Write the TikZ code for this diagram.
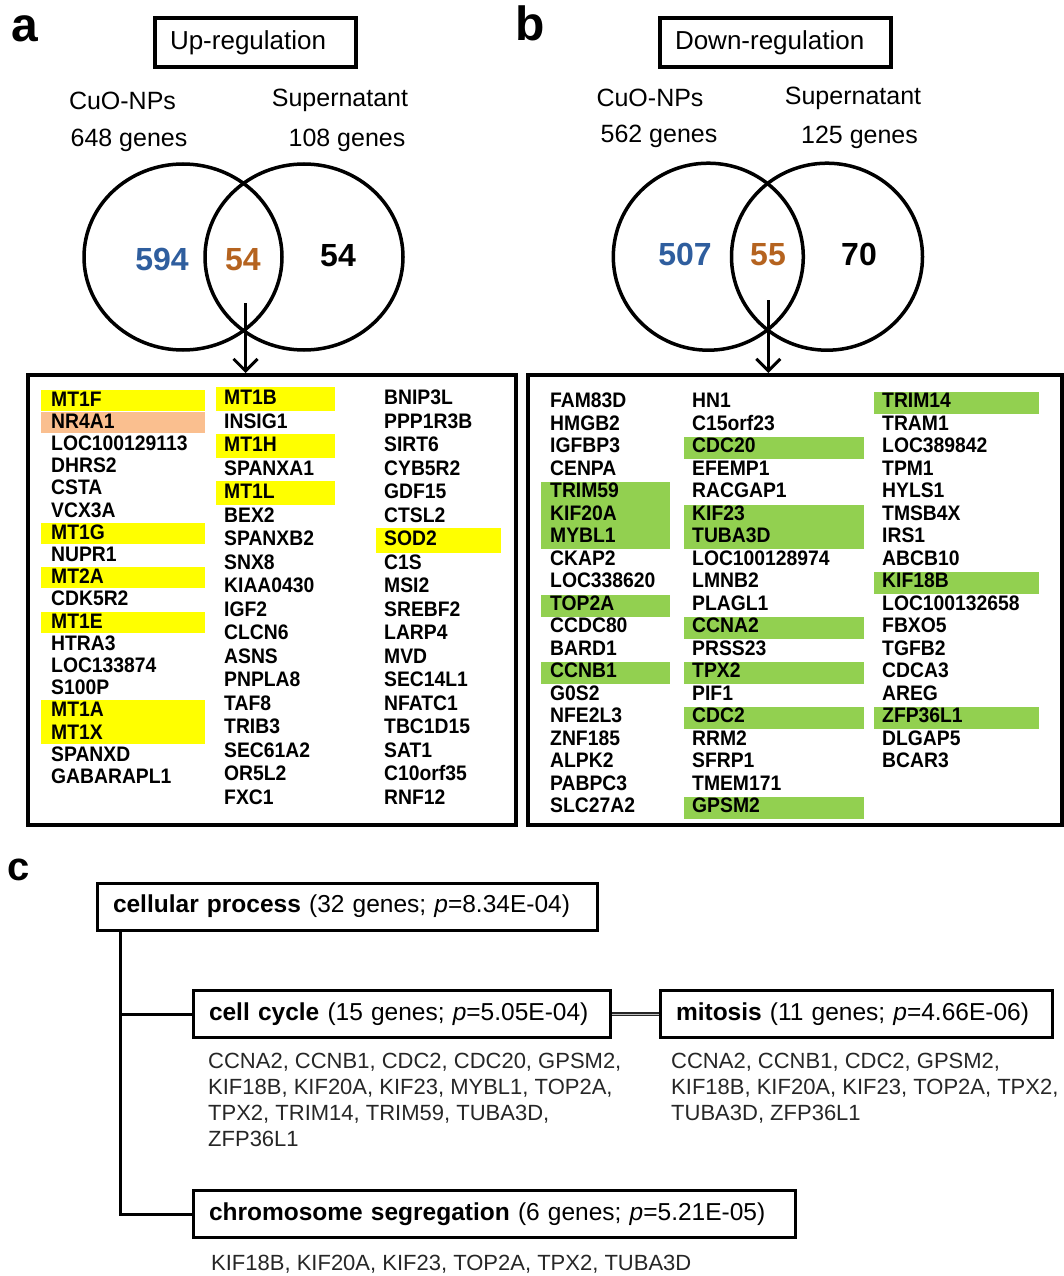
\documentclass[tikz,border=0pt]{standalone}
\usepackage{fontspec}
\setmainfont{Liberation Sans}
\newfontfamily\genefont[FakeStretch=0.92]{Liberation Sans}
\usetikzlibrary{shapes.geometric,arrows.meta,calc}
\definecolor{numblue}{RGB}{47,94,158}
\definecolor{numbrown}{RGB}{181,99,31}
\definecolor{hlyellow}{RGB}{255,255,0}
\definecolor{hlorange}{RGB}{250,191,143}
\definecolor{hlgreen}{RGB}{146,208,80}
\begin{document}
\begin{tikzpicture}[x=1pt,y=-1pt,
  panellbl/.style={font=\fontsize{48}{50}\selectfont\bfseries, anchor=base west, inner sep=0},
  titlebox/.style={draw, line width=3.5pt, minimum height=49pt, inner xsep=15pt, inner ysep=0pt, align=left, font=\fontsize{26}{28}\selectfont},
  lbl/.style={font=\fontsize{25}{27}\selectfont, anchor=base, inner sep=0},
  num/.style={font=\fontsize{32}{34}\selectfont\bfseries, anchor=base, inner sep=0},
  venn/.style={ellipse, draw, line width=3.5pt, inner sep=0},
  gbox/.style={draw, line width=4pt, inner sep=0},
  gene/.style={font=\genefont\fontsize{21}{22}\selectfont\bfseries, anchor=west, inner sep=0, text height=15pt, text depth=0pt},
  arr/.style={line width=3pt, -{Straight Barb[length=12pt,width=24pt]}},
  cbox/.style={draw, line width=3pt, minimum height=47pt, inner xsep=16pt, inner ysep=0pt, align=left, font=\fontsize{24.5}{27}\selectfont},
  cgenes/.style={font=\fontsize{22}{26}\selectfont, align=left, inner sep=0, text=black!85, anchor=north west},
  conn/.style={line width=3pt}
]
\useasboundingbox (0,0) rectangle (1064,1276);

% ---------- panel labels
\node[panellbl] (la) at (11,42) {a};
\node[panellbl] (lb) at (515,41) {b};
\node[panellbl, font=\fontsize{40}{42}\selectfont\bfseries] (lc) at (7,880) {c};

% ---------- titles
\node[titlebox, text width=171pt] (tup) at (255.5,42.5) {Up-regulation};
\node[titlebox, text width=201pt] (tdown) at (775.5,42.5) {Down-regulation};

% ---------- panel a venn
\node[lbl] (acuo) at (122.5,110) {CuO-NPs};
\node[lbl] (acuon) at (129,147) {648 genes};
\node[lbl] (asup) at (340,107) {Supernatant};
\node[lbl] (asupn) at (347,147) {108 genes};
\node[venn, minimum width=198pt, minimum height=186pt] (ca1) at (183,257) {};
\node[venn, minimum width=198pt, minimum height=186pt] (ca2) at (304,257) {};
\node[num, text=numblue] (na1) at (162,270) {594};
\node[num, text=numbrown] (na2) at (243,270.5) {54};
\node[num] (na3) at (338,266.5) {54};

% ---------- panel b venn
\node[lbl] (bcuo) at (650,107) {CuO-NPs};
\node[lbl] (bcuon) at (659,143) {562 genes};
\node[lbl] (bsup) at (853,105) {Supernatant};
\node[lbl] (bsupn) at (859.5,144) {125 genes};
\node[venn, minimum width=190pt, minimum height=187pt] (cb1) at (708.3,256.7) {};
\node[venn, minimum width=191pt, minimum height=187pt] (cb2) at (827,256.7) {};
\node[num, text=numblue] (nb1) at (685,265) {507};
\node[num, text=numbrown] (nb2) at (768,265) {55};
\node[num] (nb3) at (859,265) {70};

% ---------- gene boxes
\node[gbox, minimum width=488pt, minimum height=450pt] (boxa) at (272,600) {};
\node[gbox, minimum width=534pt, minimum height=450pt] (boxb) at (795,600) {};

\coordinate (arra) at (245.5,303);
\coordinate (arrb) at (768.3,300);
\draw[arr] (arra) -- (arra |- boxa.north);
\draw[arr] (arrb) -- (arrb |- boxb.north);

% ---------- highlights panel a
\fill[hlyellow] (41,389.5) rectangle (205,410.5);
\fill[hlorange] (41,411.7) rectangle (205,432.7);
\fill[hlyellow] (41,522.7) rectangle (205,543.7);
\fill[hlyellow] (41,567.1) rectangle (205,588.1);
\fill[hlyellow] (41,611.5) rectangle (205,632.5);
\fill[hlyellow] (41,700.3) rectangle (205,743.5);
\fill[hlyellow] (216,387) rectangle (335,411);
\fill[hlyellow] (216,434) rectangle (335,458);
\fill[hlyellow] (216,481) rectangle (335,505);
\fill[hlyellow] (376,528) rectangle (501,553);

% ---------- highlights panel b
\fill[hlgreen] (541,482) rectangle (670,549);
\fill[hlgreen] (541,594.5) rectangle (670,616.5);
\fill[hlgreen] (541,662) rectangle (670,684);
\fill[hlgreen] (684,437) rectangle (864,459);
\fill[hlgreen] (684,504.5) rectangle (864,549);
\fill[hlgreen] (684,617) rectangle (864,639);
\fill[hlgreen] (684,662) rectangle (864,684);
\fill[hlgreen] (684,707) rectangle (864,729);
\fill[hlgreen] (684,797) rectangle (864,819);
\fill[hlgreen] (874,392) rectangle (1039,414);
\fill[hlgreen] (874,572) rectangle (1039,594);
\fill[hlgreen] (874,707) rectangle (1039,729);

% ---------- gene lists panel a
\foreach \g [count=\i] in {MT1F,NR4A1,LOC100129113,DHRS2,CSTA,VCX3A,MT1G,NUPR1,MT2A,CDK5R2,MT1E,HTRA3,LOC133874,S100P,MT1A,MT1X,SPANXD,GABARAPL1}
  \node[gene] (ga1-\i) at (51,{398.5+(\i-1)*22.2}) {\g};
\foreach \g [count=\i] in {MT1B,INSIG1,MT1H,SPANXA1,MT1L,BEX2,SPANXB2,SNX8,KIAA0430,IGF2,CLCN6,ASNS,PNPLA8,TAF8,TRIB3,SEC61A2,OR5L2,FXC1}
  \node[gene] (ga2-\i) at (224,{397+(\i-1)*23.5}) {\g};
\foreach \g [count=\i] in {BNIP3L,PPP1R3B,SIRT6,CYB5R2,GDF15,CTSL2,SOD2,C1S,MSI2,SREBF2,LARP4,MVD,SEC14L1,NFATC1,TBC1D15,SAT1,C10orf35,RNF12}
  \node[gene] (ga3-\i) at (384,{397+(\i-1)*23.5}) {\g};

% ---------- gene lists panel b
\foreach \g [count=\i] in {FAM83D,HMGB2,IGFBP3,CENPA,TRIM59,KIF20A,MYBL1,CKAP2,LOC338620,TOP2A,CCDC80,BARD1,CCNB1,G0S2,NFE2L3,ZNF185,ALPK2,PABPC3,SLC27A2}
  \node[gene] (gb1-\i) at (550,{400+(\i-1)*22.5}) {\g};
\foreach \g [count=\i] in {HN1,C15orf23,CDC20,EFEMP1,RACGAP1,KIF23,TUBA3D,LOC100128974,LMNB2,PLAGL1,CCNA2,PRSS23,TPX2,PIF1,CDC2,RRM2,SFRP1,TMEM171,GPSM2}
  \node[gene] (gb2-\i) at (692,{400+(\i-1)*22.5}) {\g};
\foreach \g [count=\i] in {TRIM14,TRAM1,LOC389842,TPM1,HYLS1,TMSB4X,IRS1,ABCB10,KIF18B,LOC100132658,FBXO5,TGFB2,CDCA3,AREG,ZFP36L1,DLGAP5,BCAR3}
  \node[gene] (gb3-\i) at (882,{400+(\i-1)*22.5}) {\g};

% ---------- panel c
\node[cbox, text width=468pt] (cp) at (347,906.5) {\textbf{cellular process} (32 genes; \textit{p}=8.34E-04)};
\node[cbox, text width=385pt] (cc) at (401.5,1014) {\textbf{cell cycle} (15 genes; \textit{p}=5.05E-04)};
\node[cbox, text width=360pt] (mi) at (856,1014) {\textbf{mitosis} (11 genes; \textit{p}=4.66E-06)};
\node[cbox, text width=570pt] (cs) at (494,1214) {\textbf{chromosome segregation} (6 genes; \textit{p}=5.21E-05)};

\coordinate (trunk) at ($(cp.south west)+(25,0)$);
\draw[conn] (trunk) |- (cs.west);
\draw[conn] (trunk |- cc.west) -- (cc.west);
\draw[line width=1.7pt, draw=black!85, double=black!25, double distance=1pt] (cc.east) -- (mi.west);

\node[cgenes] (ccg) at (208,1053) {CCNA2, CCNB1, CDC2, CDC20, GPSM2,\\KIF18B, KIF20A, KIF23, MYBL1, TOP2A,\\TPX2, TRIM14, TRIM59, TUBA3D,\\ZFP36L1};
\node[cgenes] (mig) at (671,1053) {CCNA2, CCNB1, CDC2, GPSM2,\\KIF18B, KIF20A, KIF23, TOP2A, TPX2,\\TUBA3D, ZFP36L1};
\node[cgenes] (csg) at (211,1255) {KIF18B, KIF20A, KIF23, TOP2A, TPX2, TUBA3D};
\end{tikzpicture}
\end{document}
